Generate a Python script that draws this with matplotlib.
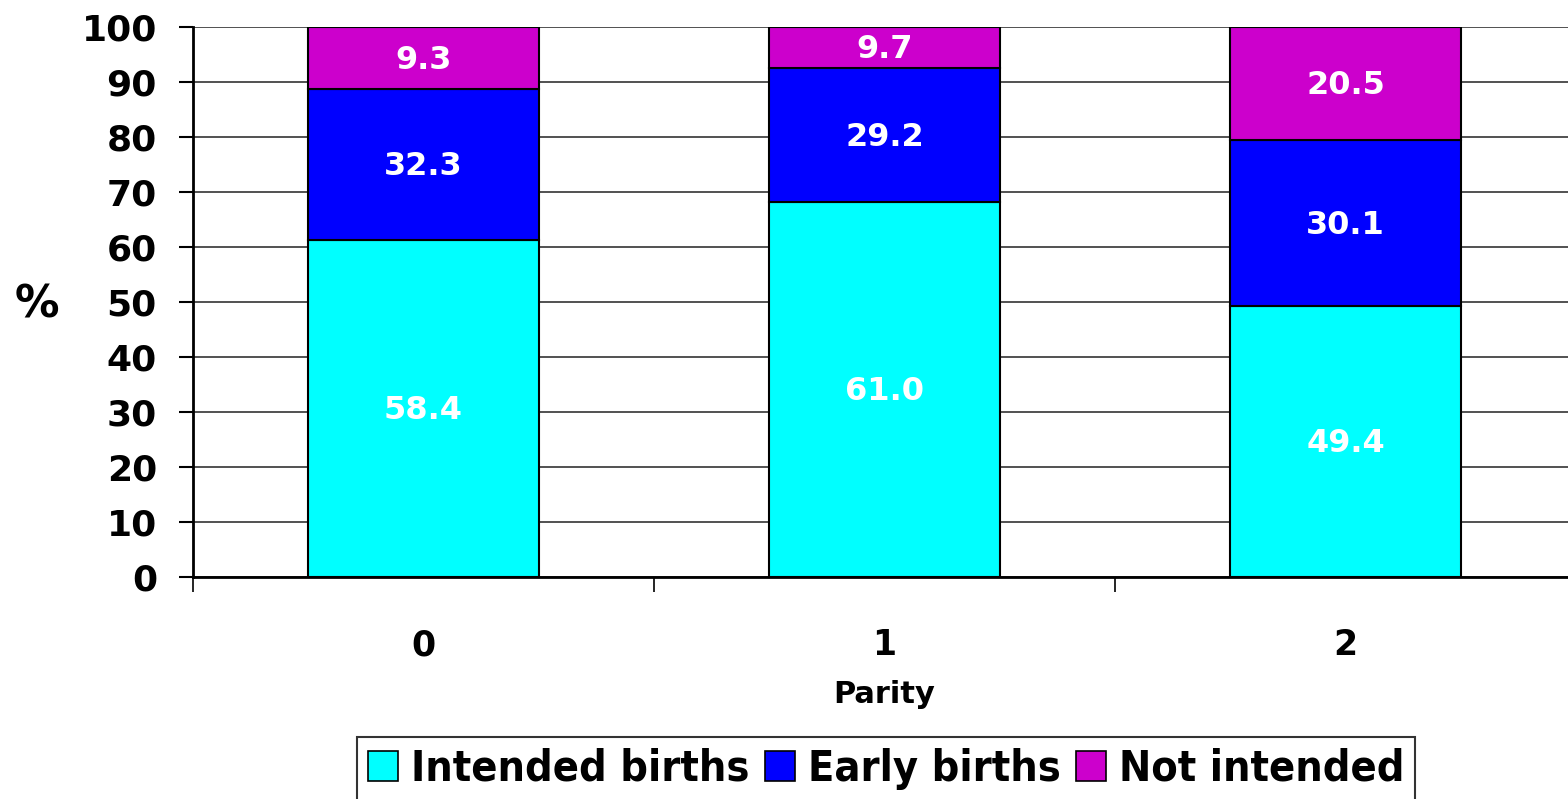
import matplotlib
matplotlib.use('Agg')
import numpy as np
import matplotlib.pyplot as plt
from matplotlib.patches import Patch
from matplotlib import font_manager

# data (bar heights as drawn, labels as printed)
parity = ['0', '1', '2']
intended = [61.3, 68.1, 49.3]
early = [27.4, 24.4, 30.2]
not_intended = [11.3, 7.5, 20.5]
intended_lbl = ['58.4', '61.0', '49.4']
early_lbl = ['32.3', '29.2', '30.1']
not_lbl = ['9.3', '9.7', '20.5']
series_names = ['Intended births', 'Early births', 'Not intended']
colors = ['#00FFFF', '#0000FF', '#CC00CC']

plt.rcParams['font.family'] = ['DejaVu Sans']

fig = plt.figure(figsize=(15.68, 7.99), dpi=100)
ax = fig.add_axes([193 / 1568, 1 - 577 / 799, 1383 / 1568, 550 / 799])
ax.set_axisbelow(True)

x = np.arange(len(parity))
bottom = np.zeros(len(parity))
for vals, lbls, col in zip([intended, early, not_intended],
                           [intended_lbl, early_lbl, not_lbl], colors):
    vals = np.array(vals)
    ax.bar(x, vals, width=0.5, bottom=bottom, color=col,
           edgecolor='black', linewidth=1.5)
    for xi, b, v, t in zip(x, bottom, vals, lbls):
        ax.text(xi, b + v / 2 - 0.4, t, ha='center', va='center', color='white',
                fontsize=23, fontweight='bold')
    bottom += vals

ax.set_xlim(-0.5, 2.5)
ax.set_ylim(0, 100)
ax.set_yticks(np.arange(0, 101, 10))
ax.yaxis.grid(True, color='#222222', linewidth=1.1)
ax.tick_params(axis='y', length=10, width=1.5, labelsize=26, pad=16)
for t in ax.get_yticklabels():
    t.set_fontweight('heavy')

# category ticks at boundaries, labels at centres
ax.set_xticks([-0.5, 0.5, 1.5, 2.5])
ax.set_xticklabels([])
ax.set_xticks(x, minor=True)
ax.set_xticklabels(parity, minor=True, fontsize=25, fontweight='bold')
ax.tick_params(axis='x', which='major', length=11, width=1.2)
ax.tick_params(axis='x', which='minor', length=0, pad=37)

for s in ['top', 'right']:
    ax.spines[s].set_visible(False)
ax.spines['left'].set_linewidth(2)
ax.spines['bottom'].set_linewidth(2)

ax.set_xlabel('Parity', fontsize=22, fontweight='bold', labelpad=13)
fig.text(37 / 1568, 1 - 305 / 799, '%', fontsize=32, fontweight='bold',
         ha='center', va='center')

# narrow bold face for the legend
leg_font = font_manager.FontProperties(family=['DejaVu Sans'], weight='bold',
                                       stretch='condensed', size=31)
handles = [Patch(facecolor=c, edgecolor='black', linewidth=1.2) for c in colors]
leg = fig.legend(handles, series_names, loc='upper center',
                 bbox_to_anchor=(886 / 1568, 1 - 737 / 799), ncol=3,
                 frameon=True, fancybox=False, edgecolor='black',
                 handlelength=0.7, handleheight=0.7, handletextpad=0.3,
                 columnspacing=0.35, borderpad=0.25, borderaxespad=0,
                 prop=leg_font)
leg.get_frame().set_linewidth(1.5)

fig.savefig('out.png', dpi=100)
